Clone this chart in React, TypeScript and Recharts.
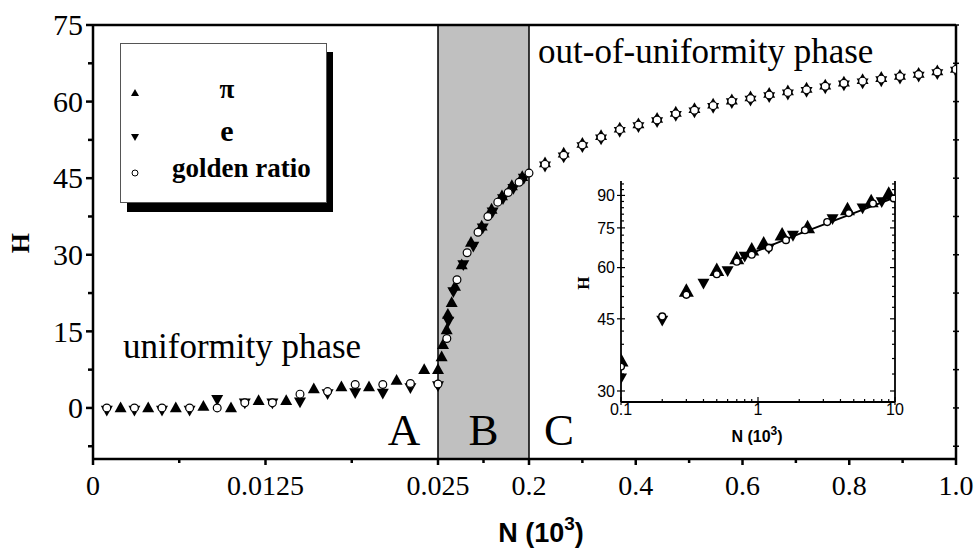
import React from "react";
import {
  ScatterChart,
  Scatter,
  XAxis,
  YAxis,
  ReferenceArea,
  ReferenceLine,
  Legend,
  CartesianGrid,
} from "recharts";

const SERIF = '"Liberation Serif", "Times New Roman", serif';
const SANS = '"Liberation Sans", Arial, sans-serif';

// ---- main panel data (N in 10^3, H) ----
const piN = [
  0.002, 0.004, 0.006, 0.008, 0.01, 0.012, 0.014, 0.016, 0.018, 0.02, 0.022, 0.024, 0.025,
  0.032, 0.0346, 0.0417, 0.044, 0.0513, 0.0577, 0.0706, 0.0885, 0.109, 0.128, 0.148, 0.167, 0.187,
  0.23, 0.265, 0.3, 0.335, 0.37, 0.405, 0.44, 0.475, 0.51, 0.545, 0.58, 0.615, 0.65, 0.685, 0.72,
  0.755, 0.79, 0.825, 0.86, 0.895, 0.93, 0.965, 1.0,
];
const piH = [
  0, 0, 0, 0.3, 0, 1.4, 1.4, 3.7, 4.1, 4.1, 5.4, 7.5, 7.5,
  10, 12.4, 15.3, 18.3, 20.6, 23.8, 28, 32.4, 35.6, 38.9, 41.5, 43.5, 45.3,
  48.0, 49.9, 51.8, 53.3, 54.8, 55.6, 56.7, 57.9, 58.6, 59.5, 60.3, 60.9, 61.6, 62.1, 62.6,
  63.2, 63.8, 64.3, 64.7, 65.1, 65.5, 66.0, 66.5,
];

const eN = [
  0.001, 0.003, 0.005, 0.007, 0.009, 0.011, 0.013, 0.015, 0.017, 0.019, 0.021, 0.023, 0.025,
  0.045, 0.0545, 0.0737, 0.0929, 0.111, 0.13, 0.15, 0.17, 0.19,
  0.23, 0.265, 0.3, 0.335, 0.37, 0.405, 0.44, 0.475, 0.51, 0.545, 0.58, 0.615, 0.65, 0.685, 0.72,
  0.755, 0.79, 0.825, 0.86, 0.895, 0.93, 0.965, 1.0,
];
const eH = [
  -0.4, -0.4, -0.4, -0.4, 1.7, 1.0, 1.0, 1.2, 2.8, 3.0, 2.9, 4.0, 4.4,
  17, 22.8, 28.1, 31.7, 35.3, 38.4, 41, 43, 45,
  47.4, 49.2, 51.2, 52.7, 54.2, 55.1, 56.1, 57.3, 58.0, 58.9, 59.8, 60.3, 61.0, 61.5, 62.0,
  62.7, 63.3, 63.7, 64.1, 64.6, 65.0, 65.5, 66.0,
];

const grN = [
  0.001, 0.003, 0.005, 0.007, 0.009, 0.011, 0.013, 0.015, 0.017, 0.019, 0.021, 0.023, 0.025,
  0.042, 0.0615, 0.081, 0.102, 0.121, 0.14, 0.16, 0.181, 0.2,
  0.23, 0.265, 0.3, 0.335, 0.37, 0.405, 0.44, 0.475, 0.51, 0.545, 0.58, 0.615, 0.65, 0.685, 0.72,
  0.755, 0.79, 0.825, 0.86, 0.895, 0.93, 0.965, 1.0,
];
const grH = [
  0, 0, 0, 0, 0, 1.0, 1.0, 2.7, 3.2, 4.6, 4.6, 4.8, 4.7,
  13.6, 25.1, 30.4, 34.4, 37.5, 40.3, 42.2, 44.2, 46,
  47.7, 49.5, 51.5, 53.0, 54.5, 55.4, 56.4, 57.6, 58.3, 59.2, 60.1, 60.6, 61.3, 61.8, 62.3,
  63.0, 63.6, 64.0, 64.4, 64.9, 65.3, 65.8, 66.3,
];

// ---- inset data (log-log) ----
const inPiN = [0.1, 0.3, 0.5, 0.7, 0.9, 1.1, 1.5, 2.3, 4.5, 6.7, 9];
const inPiH = [35.5, 52.5, 59, 63, 66.2, 68.5, 72, 75, 83, 86.8, 90.5];
const inEN = [0.1, 0.2, 0.4, 0.6, 0.8, 1.2, 1.8, 3.5, 5.8, 8];
const inEH = [32.3, 44.7, 55, 59, 64, 67, 72, 79, 84, 87];
const inGrN = [0.1, 0.2, 0.3, 0.5, 0.7, 0.9, 1.2, 1.6, 2.2, 3.2, 4.6, 6.9, 9.8];
const inGrH = [34.4, 45.6, 51.5, 57.8, 62, 64.5, 67, 70, 74, 77.5, 81.5, 86, 88.5];
const fitN = [0.7, 1, 2, 5, 10];
const fitH = [62.5, 66, 72.5, 81.5, 89];

// ---- axis ticks ----
const xMajorN = [0, 0.0125, 0.025, 0.2, 0.4, 0.6, 0.8, 1.0];
const xMajorLabels = ["0", "0.0125", "0.025", "0.2", "0.4", "0.6", "0.8", "1.0"];
const xMinorN = [0.00625, 0.01875, 0.1125, 0.3, 0.5, 0.7, 0.9];
const yMajor = [0, 15, 30, 45, 60, 75];
const yMinor = [-7.5, 7.5, 22.5, 37.5, 52.5, 67.5];

const inXMajor = [0.1, 1, 10];
const inXMinor = [0.2, 0.3, 0.4, 0.5, 0.6, 0.7, 0.8, 0.9, 2, 3, 4, 5, 6, 7, 8, 9];
const inYMajor = [30, 45, 60, 75, 90];
const inYMinor = [33, 36, 39, 42, 48, 51, 54, 57, 63, 66, 69, 72, 78, 81, 84, 87, 93, 96];

// piecewise x axis: A = [0, 0.025], B = [0.025, 0.2], C = [0.2, 1.0]
function tx(n: number) {
  if (n <= 0.025) return (n / 0.025) * 345;
  if (n <= 0.2) return 345 + ((n - 0.025) / 0.175) * 91;
  return 436 + ((n - 0.2) / 0.8) * 427;
}

const toPts = (ns: number[], hs: number[]) => ns.map((n, i) => ({ x: tx(n), y: hs[i] }));
const toLog = (ns: number[], hs: number[]) => ns.map((n, i) => ({ x: n, y: hs[i] }));

type Tick = { v: number; label: string; major: boolean };
const sortTicks = (t: Tick[]) => t.sort((a, b) => a.v - b.v);

const xTickList = sortTicks([
  ...xMajorN.map((n, i) => ({ v: tx(n), label: xMajorLabels[i], major: true })),
  ...xMinorN.map((n) => ({ v: tx(n), label: "", major: false })),
]);
const yTickList = sortTicks([
  ...yMajor.map((v) => ({ v, label: String(v), major: true })),
  ...yMinor.map((v) => ({ v, label: "", major: false })),
]);
const inXTickList = sortTicks([
  ...inXMajor.map((v) => ({ v, label: String(v), major: true })),
  ...inXMinor.map((v) => ({ v, label: "", major: false })),
]);
const inYTickList = sortTicks([
  ...inYMajor.map((v) => ({ v, label: String(v), major: true })),
  ...inYMinor.map((v) => ({ v, label: "", major: false })),
]);

const upTri = (w: number, fill = "#000") => (p: any) => {
  const { cx, cy } = p;
  const h = w * 0.9;
  return (
    <polygon
      points={`${cx},${cy - h * 0.6} ${cx - w / 2},${cy + h * 0.4} ${cx + w / 2},${cy + h * 0.4}`}
      fill={fill}
    />
  );
};
const downTri = (w: number, fill = "#000") => (p: any) => {
  const { cx, cy } = p;
  const h = w * 0.9;
  return (
    <polygon
      points={`${cx},${cy + h * 0.6} ${cx - w / 2},${cy - h * 0.4} ${cx + w / 2},${cy - h * 0.4}`}
      fill={fill}
    />
  );
};
const ring = (r: number, sw: number) => (p: any) => (
  <circle cx={p.cx} cy={p.cy} r={r} fill="#fff" stroke="#000" strokeWidth={sw} />
);
const noDot = () => <g />;

function MainXTick(props: any) {
  const { x, y, index } = props;
  const t = xTickList[index];
  if (!t) return <g />;
  return (
    <g>
      <line x1={x} x2={x} y1={y} y2={y + (t.major ? 6 : 4)} stroke="#000" strokeWidth={2.5} />
      {t.major && (
        <text x={x} y={y + 36} textAnchor="middle" fontSize={28} fontFamily={SERIF} fill="#000">
          {t.label}
        </text>
      )}
    </g>
  );
}

function MainYTick(props: any) {
  const { x, y, index } = props;
  const t = yTickList[index];
  if (!t) return <g />;
  return (
    <g>
      <line x1={x} x2={x - (t.major ? 7 : 5)} y1={y} y2={y} stroke="#000" strokeWidth={2.5} />
      {t.major && (
        <text x={x - 10} y={y} dy="0.34em" textAnchor="end" fontSize={30} fontFamily={SERIF} fill="#000">
          {t.label}
        </text>
      )}
    </g>
  );
}

function RightTick(props: any) {
  const { x, y } = props;
  return <line x1={x - 3} x2={x + 3} y1={y} y2={y} stroke="#000" strokeWidth={1.5} />;
}

function InXTick(props: any) {
  const { x, y, index } = props;
  const t = inXTickList[index];
  if (!t) return <g />;
  return (
    <g>
      <line x1={x} x2={x} y1={y + (t.major ? 3 : 0)} y2={y - (t.major ? 5 : 3)} stroke="#000" strokeWidth={1.2} />
      {t.major && (
        <text x={x} y={y + 13} textAnchor="middle" fontSize={16} fontFamily={SANS} fill="#000">
          {t.label}
        </text>
      )}
    </g>
  );
}

function InTopTick(props: any) {
  const { x, y, index } = props;
  const t = inXTickList[index];
  if (!t) return <g />;
  return <line x1={x} x2={x} y1={y} y2={y + (t.major ? 5 : 3)} stroke="#000" strokeWidth={1.2} />;
}

function InYTick(props: any) {
  const { x, y, index } = props;
  const t = inYTickList[index];
  if (!t) return <g />;
  return (
    <g>
      <line x1={x - (t.major ? 4 : 0)} x2={x + (t.major ? 4 : 3)} y1={y} y2={y} stroke="#000" strokeWidth={1.2} />
      {t.major && (
        <text x={x - 6} y={y} dy="0.36em" textAnchor="end" fontSize={16} fontFamily={SANS} fill="#000">
          {t.label}
        </text>
      )}
    </g>
  );
}

function InRightTick(props: any) {
  const { x, y, index } = props;
  const t = inYTickList[index];
  if (!t) return <g />;
  return <line x1={x} x2={x - (t.major ? 5 : 3)} y1={y} y2={y} stroke="#000" strokeWidth={1.2} />;
}

function LegendBox() {
  return (
    <svg width={216} height={172} style={{ display: "block" }}>
      <rect x={7} y={9} width={206} height={160} fill="#000" />
      <rect x={0.5} y={0.5} width={206} height={159} fill="#fff" stroke="#555" strokeWidth={1} />
      <polygon points="15,46 11,53 19,53" fill="#000" />
      <text x={107} y={55} textAnchor="middle" fontSize={27} fontWeight="bold" fontFamily={SERIF}>
        π
      </text>
      <polygon points="15,98 11,91 19,91" fill="#000" />
      <text x={107} y={98} textAnchor="middle" fontSize={30} fontWeight="bold" fontFamily={SERIF}>
        e
      </text>
      <circle cx={15} cy={130} r={3} fill="#fff" stroke="#000" strokeWidth={1} />
      <text x={52} y={134} fontSize={27} fontWeight="bold" fontFamily={SERIF}>
        golden ratio
      </text>
    </svg>
  );
}

function Inset() {
  return (
    <div style={{ position: "absolute", left: 560, top: 170 }}>
      <ScatterChart width={360} height={280} margin={{ top: 11, right: 0, bottom: 0, left: 0 }}>
        <CartesianGrid horizontal={false} vertical={false} fill="#fff" stroke="none" />
        <XAxis
          type="number"
          dataKey="x"
          scale="log"
          domain={[0.1, 10]}
          allowDataOverflow
          ticks={inXTickList.map((t) => t.v)}
          interval={0}
          height={48}
          tickSize={0}
          tickMargin={0}
          tickLine={false}
          tick={(p: any) => <InXTick {...p} />}
          axisLine={{ stroke: "#000", strokeWidth: 1.8 }}
        />
        <XAxis
          xAxisId="top"
          orientation="top"
          type="number"
          scale="log"
          domain={[0.1, 10]}
          allowDataOverflow
          ticks={inXTickList.map((t) => t.v)}
          interval={0}
          height={0}
          tickSize={0}
          tickMargin={0}
          tickLine={false}
          tick={(p: any) => <InTopTick {...p} />}
          axisLine={{ stroke: "#000", strokeWidth: 1.8 }}
        />
        <YAxis
          type="number"
          dataKey="y"
          scale="log"
          domain={[28.2, 97.6]}
          allowDataOverflow
          ticks={inYTickList.map((t) => t.v)}
          interval={0}
          width={61}
          tickSize={0}
          tickMargin={0}
          tickLine={false}
          tick={(p: any) => <InYTick {...p} />}
          axisLine={{ stroke: "#000", strokeWidth: 1.8 }}
        />
        <YAxis
          yAxisId="r"
          orientation="right"
          type="number"
          scale="log"
          domain={[28.2, 97.6]}
          allowDataOverflow
          ticks={inYTickList.map((t) => t.v)}
          interval={0}
          width={25}
          tickSize={0}
          tickMargin={0}
          tickLine={false}
          tick={(p: any) => <InRightTick {...p} />}
          axisLine={{ stroke: "#000", strokeWidth: 1.8 }}
        />
        <Scatter
          data={toLog(fitN, fitH)}
          line={{ stroke: "#000", strokeWidth: 1.8 }}
          lineType="joint"
          shape={noDot}
          isAnimationActive={false}
        />
        <Scatter data={toLog(inPiN, inPiH)} shape={upTri(15)} isAnimationActive={false} />
        <Scatter data={toLog(inEN, inEH)} shape={downTri(12)} isAnimationActive={false} />
        <Scatter data={toLog(inGrN, inGrH)} shape={ring(3.4, 1.4)} isAnimationActive={false} />
        <text x={23} y={113} transform="rotate(-90 23 113)" textAnchor="middle" dy="0.35em" fontSize={17} fontWeight="bold" fontFamily={SERIF}>
          H
        </text>
        <text x={197} y={272} textAnchor="middle" fontSize={16} fontWeight="bold" fontFamily={SANS}>
          <tspan>N (10</tspan>
          <tspan dy={-7} fontSize={12}>3</tspan>
          <tspan dy={7}>)</tspan>
        </text>
      </ScatterChart>
    </div>
  );
}

export default function App() {
  return (
    <div style={{ position: "absolute", left: 0, top: 0, width: 980, height: 552, background: "#fff" }}>
      <ScatterChart width={980} height={552} margin={{ top: 25, right: 0, bottom: 0, left: 0 }}>
        <ReferenceArea
          x1={tx(0.025)}
          x2={tx(0.2)}
          y1={-10}
          y2={75}
          fill="#c0c0c0"
          fillOpacity={1}
          stroke="#000"
          strokeWidth={1.5}
          label={{ value: "B", position: "insideBottom", offset: 14, fontSize: 45, fontFamily: SERIF, fill: "#000" }}
        />
        <XAxis
          type="number"
          dataKey="x"
          domain={[0, tx(1)]}
          allowDataOverflow
          ticks={xTickList.map((t) => t.v)}
          interval={0}
          height={93}
          tickSize={0}
          tickMargin={0}
          tickLine={false}
          tick={(p: any) => <MainXTick {...p} />}
          axisLine={{ stroke: "#000", strokeWidth: 2.5 }}
        />
        <YAxis
          type="number"
          dataKey="y"
          domain={[-10, 75]}
          allowDataOverflow
          ticks={yTickList.map((t) => t.v)}
          interval={0}
          width={93}
          tickSize={0}
          tickMargin={0}
          tickLine={false}
          tick={(p: any) => <MainYTick {...p} />}
          axisLine={{ stroke: "#000", strokeWidth: 2.5 }}
        />
        <YAxis
          yAxisId="r"
          orientation="right"
          type="number"
          domain={[-10, 75]}
          allowDataOverflow
          ticks={yTickList.map((t) => t.v)}
          interval={0}
          width={24}
          tickSize={0}
          tickMargin={0}
          tickLine={false}
          tick={(p: any) => <RightTick {...p} />}
          axisLine={{ stroke: "#000", strokeWidth: 2.5 }}
        />
        <ReferenceLine y={75} stroke="#000" strokeWidth={2.5} />
        <Scatter name="π" data={toPts(piN, piH)} shape={upTri(12)} isAnimationActive={false} />
        <Scatter name="e" data={toPts(eN, eH)} shape={downTri(12)} isAnimationActive={false} />
        <Scatter name="golden ratio" data={toPts(grN, grH)} shape={ring(3.9, 1.2)} isAnimationActive={false} />
        <Legend
          layout="vertical"
          align="center"
          verticalAlign="middle"
          content={() => <LegendBox />}
          wrapperStyle={{ position: "absolute", left: 120, top: 43, width: 216, height: 172 }}
        />
        <text x={123} y={358} fontSize={35} fontFamily={SERIF}>
          uniformity phase
        </text>
        <text x={538} y={63} fontSize={35} fontFamily={SERIF}>
          out-of-uniformity phase
        </text>
        <text x={404} y={445} textAnchor="middle" fontSize={45} fontFamily={SERIF}>
          A
        </text>
        <text x={559} y={445} textAnchor="middle" fontSize={45} fontFamily={SERIF}>
          C
        </text>
        <text x={20} y={243} transform="rotate(-90 20 243)" textAnchor="middle" dy="0.35em" fontSize={26} fontWeight="bold" fontFamily={SERIF}>
          H
        </text>
        <text x={541} y={542} textAnchor="middle" fontSize={27} fontWeight="bold" fontFamily={SANS}>
          <tspan>N (10</tspan>
          <tspan dy={-12} fontSize={19}>3</tspan>
          <tspan dy={12}>)</tspan>
        </text>
      </ScatterChart>
      <Inset />
    </div>
  );
}
